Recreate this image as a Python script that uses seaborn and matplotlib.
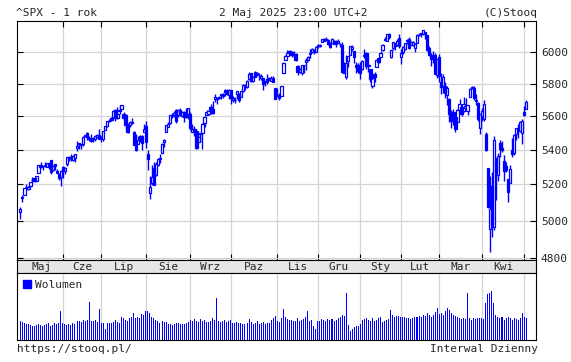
import numpy as np
import matplotlib
matplotlib.use("Agg")
import matplotlib.pyplot as plt
from matplotlib.patches import Patch
from matplotlib.ticker import NullLocator
import seaborn as sns

# ^SPX daily candles, 2 May 2024 - 2 May 2025 (one row per month)
open_ = [
    5049, 5123, 5142, 5187, 5173, 5190, 5225, 5234, 5221, 5264, 5310, 5303, 5305, 5299, 5320, 5340, 5282, 5315, 5278, 5259, 5244,
    5297, 5278, 5314, 5357, 5344, 5341, 5353, 5409, 5441, 5424, 5431, 5477, 5499, 5466, 5459, 5460, 5460, 5474, 5488,
    5471, 5461, 5513, 5537, 5572, 5585, 5591, 5635, 5590, 5638, 5645, 5610, 5608, 5543, 5544, 5566, 5505, 5429, 5434, 5477, 5479, 5505,
    5537, 5376, 5151, 5206, 5293, 5252, 5313, 5351, 5377, 5442, 5501, 5531, 5557, 5602, 5608, 5637, 5603, 5639, 5602, 5624, 5607, 5612,
    5612, 5506, 5520, 5507, 5443, 5490, 5496, 5558, 5605, 5615, 5655, 5642, 5702, 5709, 5711, 5728, 5733, 5763, 5756, 5727,
    5758, 5698, 5698, 5737, 5737, 5714, 5752, 5779, 5776, 5830, 5866, 5816, 5875, 5859, 5857, 5833, 5835, 5817, 5826, 5833, 5819, 5835, 5775,
    5723, 5728, 5722, 5864, 5947, 5976, 6008, 6003, 5986, 5990, 5912, 5874, 5864, 5917, 5935, 5948, 5993, 6000, 6015, 6004,
    6040, 6043, 6069, 6090, 6081, 6083, 6058, 6060, 6074, 6068, 6063, 6053, 6047, 5913, 5842, 5941, 5984, 6024, 6007, 5920, 5920,
    5903, 5891, 5983, 5993, 5910, 5890, 5783, 5860, 5906, 5962, 5969, 6015, 6082, 6076, 6121, 5969, 6026, 6058, 6050, 6096,
    5970, 5999, 6021, 6073, 6089, 6048, 6048, 6026, 6061, 6115, 6121, 6118, 6134, 6115, 6026, 5983, 5971, 5981, 5857,
    5969, 5812, 5782, 5785, 5726, 5706, 5604, 5624, 5594, 5563, 5635, 5654, 5632, 5646, 5630, 5719, 5772, 5772, 5696, 5679, 5528,
    5597, 5581, 5492, 5292, 4953, 5193, 4966, 5353, 5256, 5441, 5411, 5335, 5306, 5232, 5208, 5395, 5381, 5489, 5529, 5508, 5499,
    5626, 5645,
]
high = [
    5073, 5139, 5181, 5200, 5191, 5215, 5239, 5238, 5250, 5311, 5325, 5305, 5325, 5324, 5323, 5342, 5311, 5315, 5288, 5264, 5280,
    5303, 5298, 5355, 5362, 5376, 5366, 5375, 5448, 5441, 5432, 5477, 5488, 5506, 5479, 5490, 5472, 5483, 5490, 5524,
    5479, 5510, 5539, 5570, 5583, 5591, 5635, 5642, 5655, 5666, 5670, 5622, 5615, 5557, 5571, 5585, 5508, 5492, 5479, 5487, 5485, 5551,
    5567, 5396, 5250, 5312, 5330, 5326, 5350, 5372, 5436, 5463, 5546, 5564, 5608, 5621, 5633, 5643, 5641, 5651, 5631, 5628, 5646, 5651,
    5624, 5552, 5540, 5523, 5485, 5497, 5560, 5600, 5636, 5636, 5671, 5690, 5734, 5715, 5725, 5736, 5741, 5767, 5764, 5765,
    5758, 5720, 5718, 5753, 5740, 5756, 5796, 5796, 5822, 5871, 5870, 5846, 5878, 5872, 5866, 5863, 5835, 5817, 5862, 5842, 5847, 5850, 5775,
    5772, 5741, 5783, 5936, 5983, 6013, 6018, 6010, 6009, 5994, 5915, 5902, 5919, 5921, 5964, 5973, 6020, 6025, 6021, 6044,
    6053, 6052, 6087, 6092, 6099, 6088, 6066, 6092, 6079, 6078, 6086, 6058, 6070, 5935, 5982, 5979, 6040, 6049, 6007, 5940, 5929,
    5935, 5949, 6022, 6001, 5928, 5891, 5840, 5872, 5954, 5964, 6007, 6052, 6100, 6119, 6128, 6018, 6070, 6064, 6087, 6120,
    6022, 6043, 6063, 6084, 6101, 6073, 6076, 6063, 6117, 6127, 6129, 6147, 6134, 6115, 6043, 5993, 6010, 5994, 5959,
    5987, 5865, 5860, 5812, 5783, 5712, 5636, 5642, 5598, 5645, 5704, 5654, 5715, 5711, 5670, 5775, 5787, 5782, 5732, 5685, 5615,
    5651, 5695, 5501, 5293, 5247, 5268, 5481, 5353, 5381, 5459, 5450, 5367, 5329, 5232, 5310, 5470, 5489, 5528, 5554, 5572, 5581,
    5659, 5700,
]
low = [
    5011, 5102, 5142, 5180, 5166, 5187, 5209, 5211, 5217, 5263, 5296, 5283, 5299, 5297, 5286, 5257, 5278, 5280, 5265, 5222, 5191,
    5234, 5257, 5303, 5336, 5331, 5331, 5328, 5391, 5403, 5403, 5420, 5471, 5455, 5452, 5447, 5446, 5451, 5467, 5460,
    5446, 5451, 5513, 5531, 5563, 5571, 5587, 5571, 5583, 5614, 5640, 5584, 5522, 5497, 5535, 5550, 5425, 5391, 5434, 5445, 5399, 5503,
    5410, 5283, 5119, 5194, 5195, 5245, 5306, 5324, 5377, 5415, 5501, 5531, 5551, 5585, 5591, 5560, 5593, 5602, 5591, 5561, 5585, 5581,
    5514, 5503, 5478, 5402, 5443, 5442, 5406, 5536, 5604, 5605, 5615, 5615, 5683, 5674, 5704, 5704, 5713, 5722, 5726, 5704,
    5675, 5683, 5677, 5703, 5683, 5714, 5746, 5763, 5775, 5822, 5809, 5808, 5840, 5846, 5824, 5822, 5762, 5784, 5799, 5823, 5814, 5813, 5703,
    5723, 5696, 5722, 5864, 5947, 5976, 5986, 5969, 5970, 5942, 5854, 5865, 5855, 5866, 5883, 5944, 5963, 5993, 5992, 6004,
    6031, 6033, 6065, 6071, 6079, 6048, 6027, 6060, 6051, 6032, 6060, 6036, 5867, 5866, 5832, 5903, 5983, 6007, 5932, 5869, 5868,
    5829, 5888, 5960, 5891, 5874, 5812, 5774, 5809, 5906, 5933, 5969, 6007, 6076, 6075, 6089, 5962, 6015, 6015, 6040, 6031,
    5923, 5991, 6012, 6052, 6020, 6048, 6042, 6003, 6060, 6107, 6099, 6111, 6084, 6008, 5977, 5909, 5930, 5858, 5837,
    5810, 5732, 5742, 5711, 5667, 5565, 5529, 5546, 5505, 5563, 5628, 5598, 5622, 5632, 5605, 5719, 5764, 5700, 5670, 5572, 5489,
    5568, 5572, 5391, 5069, 4835, 4910, 4950, 5115, 5220, 5359, 5387, 5220, 5270, 5101, 5208, 5359, 5371, 5455, 5468, 5506, 5434,
    5597, 5642,
]
close = [
    5064, 5128, 5181, 5187, 5188, 5214, 5223, 5221, 5247, 5308, 5297, 5303, 5308, 5321, 5307, 5268, 5305, 5306, 5267, 5236, 5278,
    5283, 5291, 5354, 5352, 5347, 5361, 5375, 5421, 5434, 5431, 5473, 5487, 5473, 5465, 5448, 5469, 5478, 5483, 5460,
    5475, 5509, 5537, 5567, 5572, 5577, 5633, 5585, 5615, 5631, 5667, 5589, 5545, 5505, 5564, 5555, 5427, 5399, 5459, 5464, 5436, 5522,
    5446, 5347, 5186, 5240, 5199, 5319, 5344, 5344, 5434, 5455, 5543, 5554, 5608, 5597, 5621, 5571, 5635, 5616, 5626, 5592, 5592, 5648,
    5528, 5520, 5503, 5408, 5471, 5496, 5554, 5596, 5626, 5633, 5634, 5618, 5714, 5703, 5719, 5732, 5722, 5745, 5738, 5762,
    5709, 5710, 5700, 5751, 5696, 5751, 5793, 5780, 5815, 5859, 5815, 5843, 5841, 5865, 5853, 5851, 5797, 5809, 5808, 5823, 5833, 5813, 5705,
    5729, 5712, 5782, 5929, 5973, 5996, 6001, 5984, 5985, 5949, 5871, 5894, 5917, 5917, 5949, 5969, 5987, 6021, 5999, 6032,
    6047, 6050, 6087, 6075, 6090, 6053, 6034, 6084, 6052, 6051, 6074, 6051, 5872, 5867, 5931, 5974, 6040, 6037, 5971, 5907, 5882,
    5869, 5942, 5975, 5909, 5918, 5827, 5836, 5843, 5950, 5937, 5997, 6049, 6086, 6119, 6101, 6012, 6068, 6039, 6071, 6041,
    5994, 6037, 6061, 6083, 6026, 6066, 6068, 6052, 6115, 6115, 6129, 6144, 6117, 6013, 5983, 5955, 5956, 5862, 5955,
    5850, 5779, 5843, 5739, 5770, 5615, 5572, 5599, 5522, 5639, 5675, 5615, 5675, 5663, 5668, 5768, 5777, 5712, 5693, 5581, 5612,
    5633, 5671, 5397, 5074, 5062, 4982, 5457, 5268, 5363, 5406, 5397, 5276, 5283, 5158, 5288, 5376, 5485, 5525, 5529, 5561, 5569,
    5604, 5687,
]
# volume, relative units (no scale shown on the chart)
volume = [
    58, 55, 51, 49, 47, 45, 43, 43, 46, 49, 45, 43, 45, 47, 50, 43, 46, 51, 49, 53, 88,
    51, 49, 46, 49, 45, 53, 49, 57, 59, 55, 61, 59, 61, 115, 59, 57, 61, 56, 94,
    53, 51, 33, 53, 51, 53, 56, 61, 56, 53, 71, 66, 61, 58, 66, 71, 81, 66, 71, 66, 78, 76,
    88, 88, 83, 71, 66, 61, 59, 53, 59, 56, 56, 49, 49, 46, 49, 53, 51, 47, 49, 49, 51, 56,
    61, 59, 63, 59, 56, 63, 59, 61, 56, 56, 59, 66, 61, 126, 59, 56, 59, 61, 56, 59,
    61, 53, 53, 56, 51, 51, 49, 49, 51, 63, 56, 49, 53, 59, 49, 51, 56, 49, 53, 51, 61, 66, 73,
    59, 56, 66, 94, 71, 63, 61, 61, 59, 59, 66, 59, 61, 63, 71, 88, 59, 61, 43, 33,
    59, 59, 63, 61, 59, 63, 61, 63, 59, 61, 66, 71, 76, 73, 143, 46, 26, 33, 39, 41, 43,
    49, 61, 63, 66, 61, 59, 66, 59, 61, 66, 71, 56, 59, 61, 63, 91, 76, 71, 73, 73,
    71, 71, 69, 66, 66, 63, 66, 69, 71, 73, 71, 76, 73, 81, 76, 71, 76, 86, 98,
    79, 83, 76, 88, 96, 91, 81, 76, 73, 71, 66, 63, 66, 63, 143, 66, 61, 66, 63, 66, 66,
    66, 63, 113, 138, 141, 148, 113, 76, 71, 66, 71, 61, 66, 71, 66, 61, 66, 63, 61, 66, 83,
    71, 66,
]
month_labels = ["Maj", "Cze", "Lip", "Sie", "Wrz", "Paz", "Lis", "Gru", "Sty", "Lut", "Mar", "Kwi"]
month_start = [0, 21, 40, 62, 84, 104, 127, 147, 168, 188, 207, 228, 249]  # index of 1st session
price_ticks = [4800, 5000, 5200, 5400, 5600, 5800, 6000]

assert len(open_) == len(high) == len(low) == len(close) == len(volume)

sns.set_theme(style="white")
plt.rcParams["font.family"] = ["DejaVu Sans Mono"]
plt.rcParams["font.size"] = 8

BLUE = "#0000ff"
GRID = "#d4d4d4"
W, H = 571, 362


def box(left, top, right, bottom):
    # pixel box -> figure fraction
    return [left / W, 1 - bottom / H, (right - left) / W, (bottom - top) / H]


fig = plt.figure(figsize=(W / 100, H / 100), dpi=100)
ax = fig.add_axes(box(16.5, 21, 536, 260))
ax_m = fig.add_axes(box(16.5, 260, 536, 273))
ax_v = fig.add_axes(box(16.5, 273, 536, 340))

days = np.arange(len(close))
o, h, l, c = (np.array(v, dtype=float) for v in (open_, high, low, close))
up = c >= o
lo_body = np.minimum(o, c)
hi_body = np.maximum(o, c)
xlim = (-1.9, 254.8)

# candles
ax.set_yscale("log")
ax.vlines(days, l, h, color=BLUE, lw=1.0, zorder=2)
ax.bar(days[up], hi_body[up] - lo_body[up], bottom=lo_body[up], width=1.1,
       facecolor="white", edgecolor=BLUE, linewidth=0.9, zorder=3)
ax.bar(days[~up], hi_body[~up] - lo_body[~up], bottom=lo_body[~up], width=1.1,
       facecolor=BLUE, edgecolor=BLUE, linewidth=0.9, zorder=3)
ax.set_xlim(*xlim)
ax.set_ylim(4791, 6207)
ax.set_yticks(price_ticks)
ax.set_yticklabels([str(t) for t in price_ticks])
ax.yaxis.set_minor_locator(NullLocator())
ax.set_xticks(month_start[1:])
ax.grid(True, color=GRID, lw=0.9, zorder=0)
ax.set_axisbelow(True)
ax.tick_params(axis="y", direction="in", left=True, right=True, labelleft=False,
               labelright=True, length=4, width=0.8, color="black", pad=3.5, labelsize=8)
ax.tick_params(axis="x", direction="in", top=True, bottom=True, labelbottom=False,
               length=4, width=0.8, color="black")

# month strip
ax_m.set_facecolor("#e6e6e6")
ax_m.set_xlim(*xlim)
ax_m.set_ylim(0, 1)
ax_m.set_xticks([])
ax_m.set_yticks([])
bounds = month_start
for i, name in enumerate(month_labels):
    ax_m.text((bounds[i] + bounds[i + 1]) / 2, 0.45, name, ha="center", va="center", fontsize=8)

# volume
sns.barplot(x=days, y=volume, native_scale=True, color=BLUE, saturation=1,
            width=0.5, errorbar=None, linewidth=0, edgecolor="none", ax=ax_v)
for bar in ax_v.patches:
    bar.set_facecolor(BLUE)
ax_v.set_xlim(*xlim)
ax_v.set_ylim(0, 203)
ax_v.set_xticks(month_start[1:])
ax_v.set_yticks([])
ax_v.grid(True, axis="x", color=GRID, lw=0.9)
ax_v.set_axisbelow(True)
ax_v.tick_params(length=0, labelbottom=False)
ax_v.set_xlabel("")
ax_v.set_ylabel("")
ax_v.legend(handles=[Patch(color=BLUE)], labels=["Wolumen"], loc="upper left",
            frameon=False, handlelength=0.7, handleheight=0.7, handletextpad=0.4,
            borderaxespad=0.2, fontsize=8)

for a in (ax, ax_m, ax_v):
    for s in a.spines.values():
        s.set_color("black")
        s.set_linewidth(0.8)

fig.text(16.5 / W, 1 - 13 / H, "^SPX - 1 rok", va="center", ha="left")
fig.text(219 / W, 1 - 13 / H, "2 Maj 2025 23:00 UTC+2", va="center", ha="left")
fig.text(538 / W, 1 - 13 / H, "(C)Stooq", va="center", ha="right")
fig.text(16.5 / W, 1 - 349 / H, "https://stooq.pl/", va="center", ha="left")
fig.text(538 / W, 1 - 349 / H, "Interwal Dzienny", va="center", ha="right")

fig.savefig("out.png", dpi=100)
